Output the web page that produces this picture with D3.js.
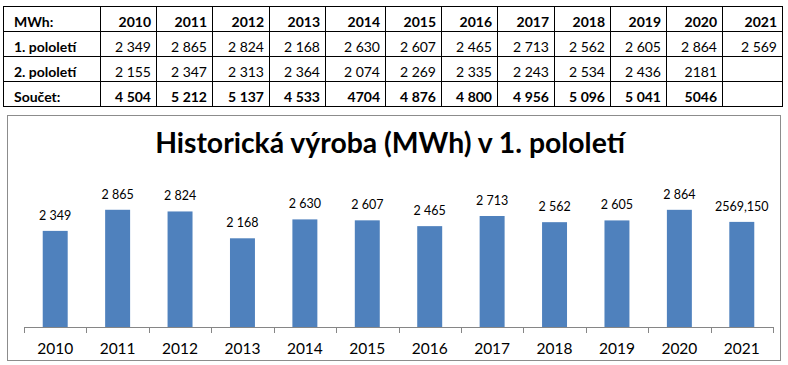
<!DOCTYPE html>
<html>
<head>
<meta charset="utf-8">
<script src="https://cdn.jsdelivr.net/npm/d3@7"></script>
<style>
  html, body { margin: 0; padding: 0; background: #fff; }
  svg { display: block; }
  text { font-family: Lato, "Open Sans", sans-serif; }
</style>
</head>
<body>
<svg id="chart" width="788" height="365"></svg>
<script>
// ---- Data ----
const years = ["2010","2011","2012","2013","2014","2015","2016","2017","2018","2019","2020","2021"];
const firstHalf = [2349, 2865, 2824, 2168, 2630, 2607, 2465, 2713, 2562, 2605, 2864, 2569.15];
const barLabels = ["2 349","2 865","2 824","2 168","2 630","2 607","2 465","2 713","2 562","2 605","2 864","2569,150"];
const rowNames = ["1. pololetí", "2. pololetí", "Součet:"];
const headerLabel = "MWh:";
const half1Text = ["2 349","2 865","2 824","2 168","2 630","2 607","2 465","2 713","2 562","2 605","2 864","2 569"];
const half2Text = ["2 155","2 347","2 313","2 364","2 074","2 269","2 335","2 243","2 534","2 436","2181",""];
const sumText   = ["4 504","5 212","5 137","4 533","4704","4 876","4 800","4 956","5 096","5 041","5046",""];
const chartTitle = "Historická výroba (MWh) v 1. pololetí";
const yMax = 3500;

// ---- Layout ----
const svg = d3.select("#chart");
const colEdges = [3,100,156,212,269,325,385,441,497,554,610,666,722,782];
const rowEdges = [6.5,31.5,56.5,81.5,106.5];

// ---- Table ----
const table = svg.append("g");
const rowsData = [
  {name: headerLabel, cells: years, bold: true},
  {name: rowNames[0], cells: half1Text, bold: false},
  {name: rowNames[1], cells: half2Text, bold: false},
  {name: rowNames[2], cells: sumText, bold: true}
];
table.selectAll("line.h").data(rowEdges).join("line")
  .attr("x1", colEdges[0]).attr("x2", colEdges[colEdges.length-1] + 1)
  .attr("y1", d => d).attr("y2", d => d)
  .attr("stroke", "#000").attr("stroke-width", 1);
table.selectAll("line.v").data(colEdges).join("line")
  .attr("x1", d => d + 0.5).attr("x2", d => d + 0.5)
  .attr("y1", rowEdges[0]).attr("y2", rowEdges[rowEdges.length-1])
  .attr("stroke", "#000").attr("stroke-width", 1);

rowsData.forEach((r, ri) => {
  const base = rowEdges[ri+1] - 5;
  table.append("text")
    .attr("x", 14).attr("y", base)
    .attr("font-size", 14).attr("font-weight", "bold")
    .attr("fill", "#000").text(r.name);
  table.selectAll(null).data(r.cells).join("text")
    .attr("x", (d, i) => colEdges[i+2] - 5)
    .attr("y", base)
    .attr("text-anchor", "end")
    .attr("font-size", 14)
    .attr("font-weight", r.bold ? "bold" : "normal")
    .attr("fill", "#000")
    .text(d => d);
});

// ---- Chart ----
const chartBox = {x: 7.5, y: 115.5, w: 773, h: 245};
svg.append("rect")
  .attr("x", chartBox.x).attr("y", chartBox.y)
  .attr("width", chartBox.w).attr("height", chartBox.h)
  .attr("fill", "#fff").attr("stroke", "#8c8c8c").attr("stroke-width", 1);

const title = svg.append("text")
  .attr("x", 390).attr("y", 153)
  .attr("text-anchor", "middle")
  .attr("font-weight", "bold")
  .attr("font-size", 28)
  .attr("fill", "#000")
  .text(chartTitle);
const tw = title.node().getComputedTextLength();
title.attr("font-size", 28 * 470 / tw);

const plot = {left: 24, right: 773, top: 183.8, bottom: 327};
const x = d3.scaleBand().domain(years)
  .range([plot.left, plot.right])
  .paddingInner(0.6).paddingOuter(0.3);
const y = d3.scaleLinear().domain([0, yMax]).range([plot.bottom, plot.top]);

svg.append("g").selectAll("rect").data(firstHalf).join("rect")
  .attr("x", (d, i) => x(years[i]))
  .attr("y", d => y(d))
  .attr("width", x.bandwidth())
  .attr("height", d => y(0) - y(d))
  .attr("fill", "#4f81bd");

svg.append("g").selectAll("text").data(firstHalf).join("text")
  .attr("x", (d, i) => x(years[i]) + x.bandwidth() / 2)
  .attr("y", d => y(d) - 11)
  .attr("text-anchor", "middle")
  .attr("font-size", 12.5)
  .attr("fill", "#000")
  .text((d, i) => barLabels[i]);

const axisG = svg.append("g").attr("transform", `translate(0,${plot.bottom})`);
axisG.call(d3.axisBottom(x).tickSize(0).tickPadding(16))
  .call(g => g.select(".domain").remove())
  .call(g => g.selectAll("text").attr("font-size", 15.5).attr("fill", "#000")
      .attr("font-family", "Lato, sans-serif").attr("dy", "0.71em"));
axisG.append("line")
  .attr("x1", plot.left).attr("x2", plot.right)
  .attr("y1", 0.5).attr("y2", 0.5)
  .attr("stroke", "#868686");
const step = x.step();
const tickPos = years.map(d => x(d) - step * 0.3).concat([plot.right]);
axisG.selectAll("line.tick").data(tickPos).join("line")
  .attr("class", "tick")
  .attr("x1", d => Math.round(d) + 0.5).attr("x2", d => Math.round(d) + 0.5)
  .attr("y1", 0).attr("y2", 6)
  .attr("stroke", "#868686");
</script>
</body>
</html>
